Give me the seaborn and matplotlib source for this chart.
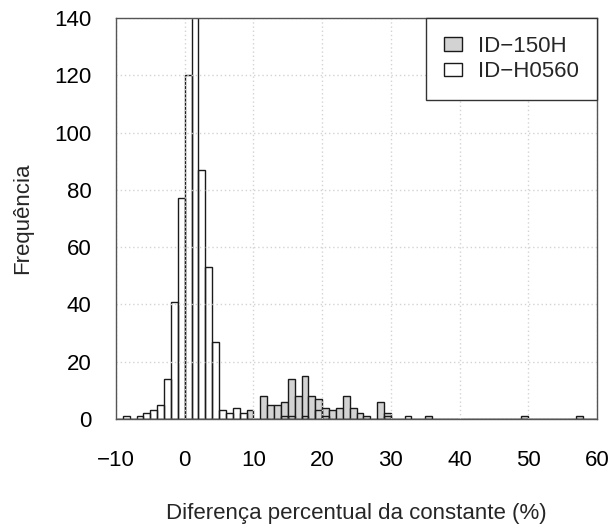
import numpy as np
import pandas as pd
import matplotlib
matplotlib.use("Agg")
import matplotlib.pyplot as plt
from matplotlib.patches import Patch
import seaborn as sns

# ---- data (bin centres, counts per 1-unit bin) ----
h0560_centres = [-8.5, -6.5, -5.5, -4.5, -3.5, -2.5, -1.5, -0.5, 0.5, 1.5, 2.5, 3.5, 4.5,
                 5.5, 6.5, 7.5, 8.5, 14.5, 15.5, 17.5, 19.5, 20.5, 29.5, 32.5]
h0560_counts = [1, 1, 2, 3, 5, 14, 41, 77, 120, 160, 87, 53, 27,
                3, 2, 4, 2, 1, 1, 1, 3, 1, 1, 1]

i150h_centres = [9.5, 11.5, 12.5, 13.5, 14.5, 15.5, 16.5, 17.5, 18.5, 19.5, 20.5, 21.5,
                 22.5, 23.5, 24.5, 25.5, 26.5, 28.5, 29.5, 35.5, 49.5, 57.5]
i150h_counts = [3, 8, 5, 5, 6, 14, 8, 15, 8, 7, 4, 3,
                4, 8, 4, 2, 1, 6, 2, 1, 1, 1]

series_labels = ["ID\u2212150H", "ID\u2212H0560"]
x_ticks = [-10, 0, 10, 20, 30, 40, 50, 60]
y_ticks = [0, 20, 40, 60, 80, 100, 120, 140]
x_label = "Diferença percentual da constante (%)"
y_label = "Frequência"

# one observation per counted value (bin centre repeated count times)
obs_150h = np.repeat(i150h_centres, i150h_counts)
obs_h0560 = np.repeat(h0560_centres, h0560_counts)

sns.set_style("white")
plt.rcParams["font.family"] = ["Liberation Sans", "DejaVu Sans"]

W, H = 610, 527
fig = plt.figure(figsize=(W / 100, H / 100), dpi=100)
ax = fig.add_axes([116 / W, 1 - 419 / H, (597 - 116) / W, (419 - 18) / H])

bins = list(range(-10, 61))
gray = "#d3d3d3"
edge = "#1a1a1a"

sns.histplot(x=obs_150h, bins=bins, stat="count",
             color=gray, alpha=1, edgecolor=edge, linewidth=1.0, ax=ax, zorder=2)
sns.histplot(x=obs_h0560, bins=bins, stat="count",
             fill=False, color=edge, linewidth=1.0, ax=ax, zorder=3)

ax.set_xlim(-10, 60)
ax.set_ylim(0, 140)
ax.set_xticks(x_ticks)
ax.set_yticks(y_ticks)
ax.set_xticklabels([str(t).replace("-", "\u2212") for t in x_ticks])
ax.set_yticklabels([str(t) for t in y_ticks])

# grid drawn on top (R grid())
for xv in x_ticks:
    ax.axvline(xv, color="#d3d3d3", linestyle=(0, (1, 2)), linewidth=1.0, zorder=5)
for yv in y_ticks:
    ax.axhline(yv, color="#d3d3d3", linestyle=(0, (1, 2)), linewidth=1.0, zorder=5)

fs = 16
ax.tick_params(axis="both", direction="out", length=9.5, width=1.0, color="#333333",
               labelsize=fs, labelcolor="black")
ax.tick_params(axis="x", pad=13)
ax.tick_params(axis="y", pad=8)
for s in ax.spines.values():
    s.set_color("#555555")
    s.set_linewidth(1.0)
    s.set_zorder(6)

ax.set_xlabel(x_label, fontsize=fs, labelpad=23)
ax.set_ylabel(y_label, fontsize=fs, labelpad=15)

handles = [Patch(facecolor=gray, edgecolor=edge, linewidth=1.0),
           Patch(facecolor="white", edgecolor=edge, linewidth=1.0)]
leg = ax.legend(handles, series_labels, loc="upper right", bbox_to_anchor=(1, 1),
                borderaxespad=0, fancybox=False, framealpha=1, edgecolor="#333333",
                fontsize=fs, handlelength=0.8, handleheight=0.55, handletextpad=0.75,
                labelspacing=0.2, borderpad=0.8)
leg.get_frame().set_linewidth(1.0)
leg.set_zorder(10)

fig.savefig("out.png", dpi=100)
